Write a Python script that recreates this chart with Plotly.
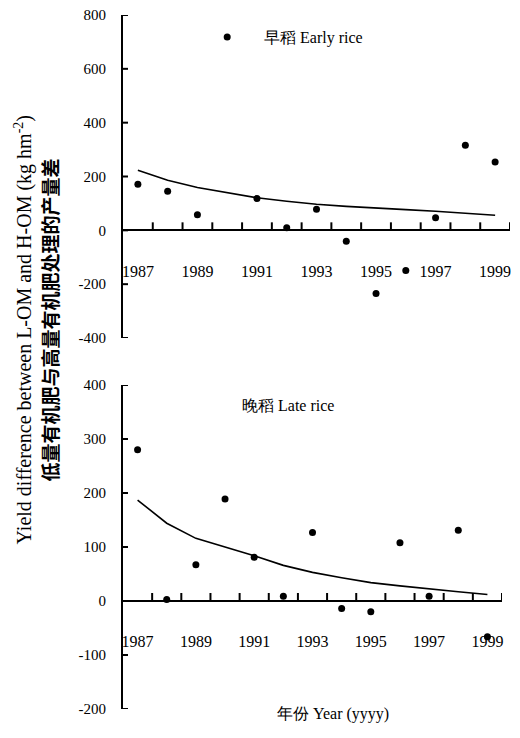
import plotly.graph_objects as go

years = [1987, 1988, 1989, 1990, 1991, 1992, 1993, 1994, 1995, 1996, 1997, 1998, 1999]
early_obs = [171, 145, 58, 718, 118, 10, 78, -41, -235, -149, 47, 316, 254]
early_trend = [223, 186, 159, 139, 121, 108, 97, 89, 82, 77, 71, 64, 56]
late_obs = [280, 3, 67, 189, 81, 9, 127, -14, -20, 108, 9, 131, -66]
late_trend = [187, 144, 116, 100, 84, 66, 53, 43, 34, 28, 22, 17, 12]

x_labels_vals = [1987, 1989, 1991, 1993, 1995, 1997, 1999]
x_labels_text = ["1987", "1989", "1991", "1993", "1995", "1997", "1999"]
x_tick_vals = [1987.5, 1988.5, 1989.5, 1990.5, 1991.5, 1992.5, 1993.5, 1994.5,
               1995.5, 1996.5, 1997.5, 1998.5, 1999.5]
y1_vals = [-400, -200, 0, 200, 400, 600, 800]
y1_text = ["-400", "-200", "0", "200", "400", "600", "800"]
y2_vals = [-200, -100, 0, 100, 200, 300, 400]
y2_text = ["-200", "-100", "0", "100", "200", "300", "400"]

W, H = 520, 738
SERIF = "Liberation Serif"
X_MIN, X_MAX = 1986.5, 1999.5
Y1_RANGE = [-400, 800]
Y2_RANGE = [-200, 400]

y1_dom = [1 - 338 / H, 1 - 15 / H]
y2_dom = [1 - 709 / H, 1 - 385 / H]
x1_dom = [123 / W, 510 / W]
x2_dom = [123 / W, 502 / W]
pos1 = y1_dom[0] + (0 - Y1_RANGE[0]) / (Y1_RANGE[1] - Y1_RANGE[0]) * (y1_dom[1] - y1_dom[0])
pos2 = y2_dom[0] + (0 - Y2_RANGE[0]) / (Y2_RANGE[1] - Y2_RANGE[0]) * (y2_dom[1] - y2_dom[0])

fig = go.Figure()
shapes = []


def add_panel(xa, ya, obs, trend, yvals):
    fig.add_trace(go.Scatter(x=years, y=trend, mode="lines",
                             line=dict(color="black", width=1.6),
                             xaxis=xa, yaxis=ya, showlegend=False))
    fig.add_trace(go.Scatter(x=years, y=obs, mode="markers",
                             marker=dict(color="black", size=7),
                             xaxis=xa, yaxis=ya, showlegend=False, cliponaxis=False))
    # upward tick marks on the zero line at category boundaries (pixel-sized)
    for xv in x_tick_vals:
        shapes.append(dict(type="line", xref=xa, yref=ya, x0=xv, x1=xv,
                           ysizemode="pixel", yanchor=0, y0=0, y1=8,
                           line=dict(color="black", width=2), layer="above"))
    # inward tick marks on the y axis (pixel-sized)
    for yv in yvals:
        shapes.append(dict(type="line", xref=xa, yref=ya, y0=yv, y1=yv,
                           xsizemode="pixel", xanchor=X_MIN, x0=0, x1=5,
                           line=dict(color="black", width=2), layer="above"))


add_panel("x", "y", early_obs, early_trend, y1_vals)
add_panel("x2", "y2", late_obs, late_trend, y2_vals)


def xaxis(dom, pos):
    return dict(domain=dom, anchor="free", position=pos, range=[X_MIN, X_MAX],
                showline=True, linecolor="black", linewidth=2, showgrid=False,
                zeroline=False, tickmode="array", tickvals=x_labels_vals,
                ticktext=x_labels_text, ticks="", ticklabelstandoff=26,
                tickfont=dict(family=SERIF, size=16, color="black"),
                automargin=False, fixedrange=True)


def yaxis(dom, rng, vals, text, anchor):
    return dict(domain=dom, anchor=anchor, range=rng, showline=True,
                linecolor="black", linewidth=2, showgrid=False, zeroline=False,
                tickmode="array", tickvals=vals, ticktext=text, ticks="",
                ticklabelstandoff=12,
                tickfont=dict(family=SERIF, size=15, color="black"),
                automargin=False, fixedrange=True)


fig.update_layout(
    width=W, height=H, margin=dict(l=0, r=0, t=0, b=0),
    paper_bgcolor="white", plot_bgcolor="white",
    font=dict(family=SERIF, color="black"),
    xaxis=xaxis(x1_dom, pos1),
    yaxis=yaxis(y1_dom, Y1_RANGE, y1_vals, y1_text, "x"),
    xaxis2=xaxis(x2_dom, pos2),
    yaxis2=yaxis(y2_dom, Y2_RANGE, y2_vals, y2_text, "x2"),
    shapes=shapes,
    annotations=[
        dict(text="早稻 Early rice", x=313 / W, y=1 - 27 / H, xref="paper", yref="paper",
             showarrow=False, font=dict(family=SERIF, size=16, color="black")),
        dict(text="晚稻 Late rice", x=288 / W, y=1 - 405 / H, xref="paper", yref="paper",
             showarrow=False, font=dict(family=SERIF, size=16, color="black")),
        dict(text="年份 Year (yyyy)", x=333 / W, y=1 - 725 / H, xref="paper", yref="paper",
             showarrow=False, font=dict(family=SERIF, size=16, color="black")),
        dict(text="Yield difference between L-OM and H-OM (kg hm<sup>-2</sup>)",
             x=8 / W, y=1 - 330 / H, xref="paper", yref="paper", textangle=-90,
             showarrow=False, font=dict(family=SERIF, size=20, color="black")),
        dict(text="<b>低量有机肥与高量有机肥处理的产量差</b>",
             x=33 / W, y=1 - 320 / H, xref="paper", yref="paper", textangle=-90,
             showarrow=False, font=dict(family="Noto Sans CJK SC", size=19, color="black")),
    ],
)

fig.write_html("out.html")
